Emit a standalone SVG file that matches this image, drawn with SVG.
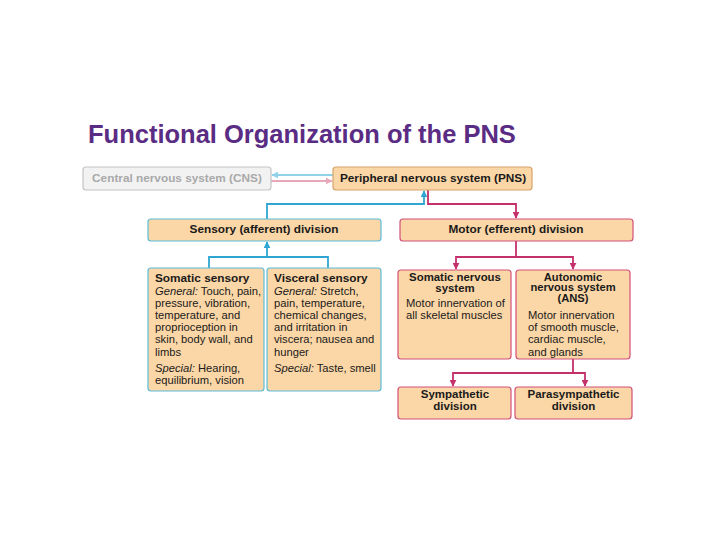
<svg xmlns="http://www.w3.org/2000/svg" width="720" height="540" viewBox="0 0 720 540">
<style>
text{font-family:"Liberation Sans",Arial,sans-serif;font-size:11.2px;fill:#1a1a1a}
.b{font-weight:bold;font-size:11.8px}
.i{font-style:italic}
.c{text-anchor:middle}
.box{fill:#fbd6a6;stroke-width:1.2}
.sen{stroke:#5cbcd9}
.mot{stroke:#d2507a}
.blue{fill:none;stroke:#2fa6d2;stroke-width:1.8}
.pink{fill:none;stroke:#c4306a;stroke-width:1.8}
</style>
<defs>
<marker id="ab" viewBox="0 0 10 10" refX="9" refY="5" markerWidth="7" markerHeight="7" markerUnits="userSpaceOnUse" orient="auto"><path d="M0,0L10,5L0,10z" fill="#2fa6d2"/></marker>
<marker id="ap" viewBox="0 0 10 10" refX="9" refY="5" markerWidth="7" markerHeight="7" markerUnits="userSpaceOnUse" orient="auto"><path d="M0,0L10,5L0,10z" fill="#c4306a"/></marker>
<marker id="abl" viewBox="0 0 10 10" refX="9" refY="5" markerWidth="7" markerHeight="7" markerUnits="userSpaceOnUse" orient="auto"><path d="M0,0L10,5L0,10z" fill="#8fd2ea"/></marker>
<marker id="apl" viewBox="0 0 10 10" refX="9" refY="5" markerWidth="7" markerHeight="7" markerUnits="userSpaceOnUse" orient="auto"><path d="M0,0L10,5L0,10z" fill="#e7a9b9"/></marker>
</defs>
<rect width="720" height="540" fill="#ffffff"/>
<text x="88" y="143" style="font-size:25.5px;font-weight:bold;fill:#5b2c83">Functional Organization of the PNS</text>

<g id="connectors">
<line x1="333" y1="175" x2="272" y2="175" stroke="#8fd2ea" stroke-width="1.8" marker-end="url(#abl)"/>
<line x1="271" y1="181" x2="332" y2="181" stroke="#e7a9b9" stroke-width="1.8" marker-end="url(#apl)"/>
<path class="blue" d="M267,219V204H424V191" marker-end="url(#ab)"/>
<path class="pink" d="M428,190V204H516V218" marker-end="url(#ap)"/>
<path class="blue" d="M209,268V257H328V268"/>
<path class="blue" d="M267,257V242" marker-end="url(#ab)"/>
<path class="pink" d="M516,241V257H456V269" marker-end="url(#ap)"/>
<path class="pink" d="M516,257H573V269" marker-end="url(#ap)"/>
<path class="pink" d="M573,359V373H453V386" marker-end="url(#ap)"/>
<path class="pink" d="M573,373H585V386" marker-end="url(#ap)"/>
</g>

<g id="cns">
<rect x="83" y="167" width="188" height="23" rx="3" fill="#f2f2f2" stroke="#c4c4c4" stroke-width="1.2"/>
<text class="b c" x="177" y="182" style="fill:#a9a9a9">Central nervous system (CNS)</text>
</g>
<g id="pns">
<rect class="box" x="333" y="167" width="199" height="23" rx="3" stroke="#d6a36c"/>
<text class="b c" x="433" y="182">Peripheral nervous system (PNS)</text>
</g>
<g id="sensory">
<rect class="box sen" x="148" y="219" width="233" height="22" rx="3"/>
<text class="b c" x="264" y="233">Sensory (afferent) division</text>
</g>
<g id="motor">
<rect class="box mot" x="400" y="219" width="233" height="22" rx="3"/>
<text class="b c" x="516" y="233">Motor (efferent) division</text>
</g>
<g id="somatic-sensory">
<rect class="box sen" x="148" y="268" width="116" height="123" rx="3"/>
<text class="b" x="155" y="282">Somatic sensory</text>
<text x="155" y="294.5"><tspan class="i">General:</tspan> Touch, pain,</text>
<text x="155" y="306.7">pressure, vibration,</text>
<text x="155" y="318.9">temperature, and</text>
<text x="155" y="331.1">proprioception in</text>
<text x="155" y="343.3">skin, body wall, and</text>
<text x="155" y="355.5">limbs</text>
<text x="155" y="372"><tspan class="i">Special:</tspan> Hearing,</text>
<text x="155" y="384.2">equilibrium, vision</text>
</g>
<g id="visceral-sensory">
<rect class="box sen" x="267" y="268" width="114" height="123" rx="3"/>
<text class="b" x="274" y="282">Visceral sensory</text>
<text x="274" y="294.5"><tspan class="i">General:</tspan> Stretch,</text>
<text x="274" y="306.7">pain, temperature,</text>
<text x="274" y="318.9">chemical changes,</text>
<text x="274" y="331.1">and irritation in</text>
<text x="274" y="343.3">viscera; nausea and</text>
<text x="274" y="355.5">hunger</text>
<text x="274" y="372"><tspan class="i">Special:</tspan> Taste, smell</text>
</g>
<g id="somatic-nervous">
<rect class="box mot" x="398" y="270" width="113" height="89" rx="3"/>
<text class="b c" x="455" y="281" style="font-size:11.4px">Somatic nervous</text>
<text class="b c" x="455" y="292" style="font-size:11.4px">system</text>
<text x="406" y="306.7">Motor innervation of</text>
<text x="406" y="318.9">all skeletal muscles</text>
</g>
<g id="ans">
<rect class="box mot" x="516" y="270" width="114" height="89" rx="3"/>
<text class="b c" x="573" y="280.5" style="font-size:11.2px">Autonomic</text>
<text class="b c" x="573" y="291" style="font-size:11.2px">nervous system</text>
<text class="b c" x="573" y="301.5" style="font-size:11.2px">(ANS)</text>
<text x="528" y="318.9">Motor innervation</text>
<text x="528" y="331.1">of smooth muscle,</text>
<text x="528" y="343.3">cardiac muscle,</text>
<text x="528" y="355.5">and glands</text>
</g>
<g id="sympathetic">
<rect class="box mot" x="398" y="387" width="113" height="32" rx="3"/>
<text class="b c" x="455" y="397.5" style="font-size:11.5px">Sympathetic</text>
<text class="b c" x="455" y="410" style="font-size:11.5px">division</text>
</g>
<g id="parasympathetic">
<rect class="box mot" x="515" y="387" width="117" height="32" rx="3"/>
<text class="b c" x="573.5" y="397.5" style="font-size:11.5px">Parasympathetic</text>
<text class="b c" x="573.5" y="410" style="font-size:11.5px">division</text>
</g>
</svg>
